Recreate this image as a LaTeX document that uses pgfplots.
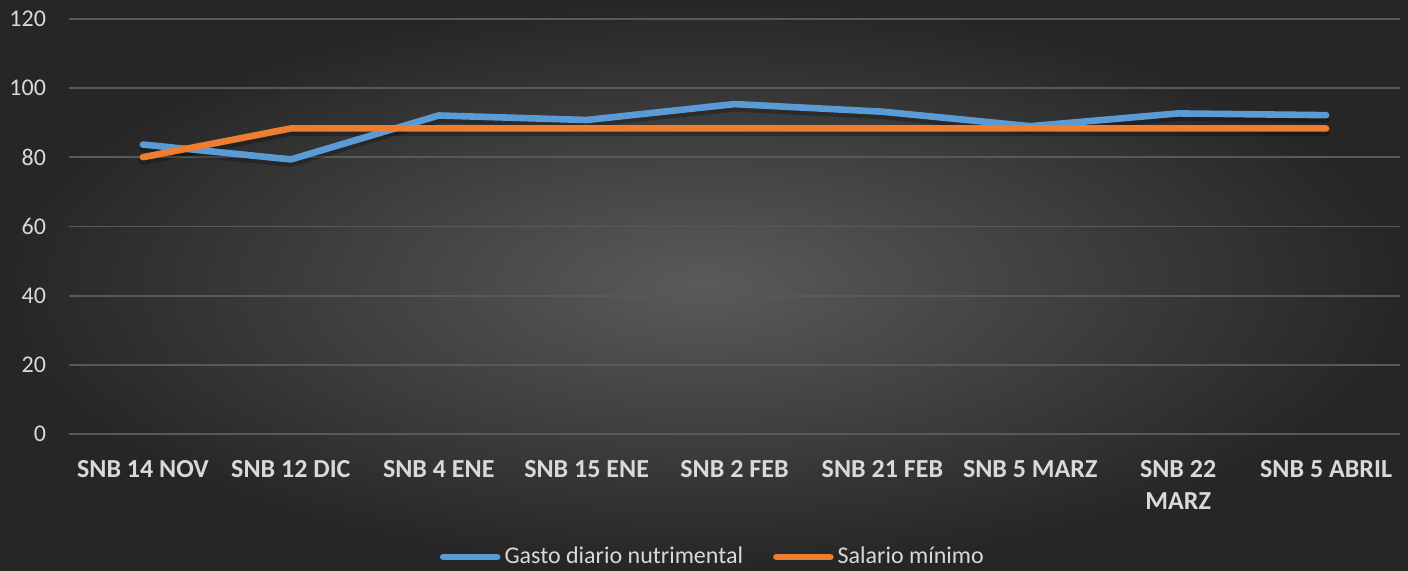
\documentclass[border=0pt]{standalone}
\usepackage{pgfplots}
\pgfplotsset{compat=1.18}
\usepackage{fontspec}
\setmainfont{Carlito}
\definecolor{bgin}{HTML}{5A5A5A}
\definecolor{bgout}{HTML}{262626}
\definecolor{txt}{HTML}{D9D9D9}
\definecolor{gridc}{HTML}{595959}
\definecolor{cblue}{HTML}{5B9BD5}
\definecolor{corange}{HTML}{ED7D31}
\begin{document}
\begin{tikzpicture}
\shade[inner color=bgin, outer color=bgout] (-34.5pt,-68pt) rectangle (669.5pt,217pt);
\begin{axis}[
  at={(0,0)}, anchor=south west,
  scale only axis, width=665.5pt, height=207.5pt,
  xmin=-0.5, xmax=8.5, ymin=0, ymax=120,
  ytick={0,20,...,120},
  xtick={0,...,8},
  xticklabels={SNB 14 NOV, SNB 12 DIC, SNB 4 ENE, SNB 15 ENE, SNB 2 FEB, SNB 21 FEB, SNB 5 MARZ, SNB 22\\MARZ, SNB 5 ABRIL},
  axis line style={draw=none},
  major tick style={draw=none},
  ymajorgrids, major grid style={gridc, line width=0.9pt},
  /pgf/number format/assume math mode=true,
  yticklabel style={font=\fontsize{12}{14}\selectfont, text=txt, xshift=-8pt},
  xticklabel style={font=\fontsize{13}{16.3}\selectfont\bfseries, text=txt, align=center, yshift=-9.5pt},
  legend style={at={(rel axis cs:0.4845,-0.296)}, anchor=center, draw=none, fill=none,
    text=txt, font=\fontsize{12}{14}\selectfont, legend columns=2,
    /tikz/every even column/.append style={column sep=13pt}},
  legend image code/.code={\draw[#1, line width=3.3pt, line cap=round] (0pt,0pt) -- (27pt,0pt);},
  clip=false,
]
\addplot[black, opacity=0.25, line width=3.5pt, line join=round, line cap=round, yshift=-2pt, forget plot] coordinates {
(0,83.7) (1,79.4) (2,92.1) (3,90.8) (4,95.4) (5,93.2) (6,89.0) (7,92.7) (8,92.2)};
\addplot[black, opacity=0.25, line width=3.5pt, line join=round, line cap=round, yshift=-2pt, forget plot] coordinates {
(0,80.04) (1,88.36) (2,88.36) (3,88.36) (4,88.36) (5,88.36) (6,88.36) (7,88.36) (8,88.36)};
\addplot[cblue, line width=3.3pt, line join=round, line cap=round] coordinates {
(0,83.7) (1,79.4) (2,92.1) (3,90.8) (4,95.4) (5,93.2) (6,89.0) (7,92.7) (8,92.2)};
\addlegendentry{Gasto diario nutrimental}
\addplot[corange, line width=3.3pt, line join=round, line cap=round] coordinates {
(0,80.04) (1,88.36) (2,88.36) (3,88.36) (4,88.36) (5,88.36) (6,88.36) (7,88.36) (8,88.36)};
\addlegendentry{Salario mínimo}
\end{axis}
\pgfresetboundingbox
\path[use as bounding box] (-34.5pt,-68pt) rectangle (669.5pt,217pt);
\end{tikzpicture}
\end{document}
